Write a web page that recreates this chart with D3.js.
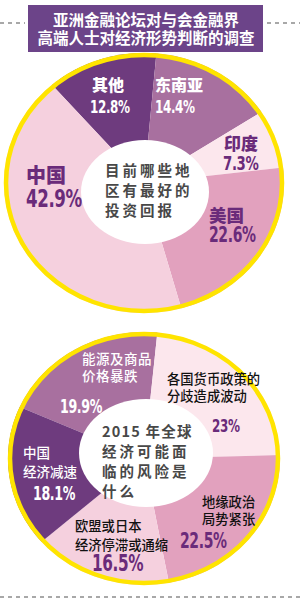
<!DOCTYPE html>
<html>
<head>
<meta charset="utf-8">
<script src="https://cdn.jsdelivr.net/npm/d3@7"></script>
<style>
  body { margin: 0; background: #fff; }
  svg { display: block; }
</style>
</head>
<body>
<svg width="300" height="603"></svg>
<script>
// ---- data ----
const titleLines = ['亚洲金融论坛对与会金融界', '高端人士对经济形势判断的调查'];

const regionNames = ['其他', '东南亚', '印度', '美国', '中国'];
const regionShares = [12.8, 14.4, 7.3, 22.6, 42.9];
const regionQuestion = ['目前哪些地', '区有最好的', '投资回报'];

const riskNames = [
  ['能源及商品', '价格暴跌'],
  ['各国货币政策的', '分歧造成波动'],
  ['地缘政治', '局势紧张'],
  ['欧盟或日本', '经济停滞或通缩'],
  ['中国', '经济减速']
];
const riskShares = [19.9, 23, 22.5, 16.5, 18.1];
const riskQuestion = ['2015 年全球', '经济可能面', '临的风险是', '什么'];

// ---- styles ----
const DARK = '#6e3b7e', MID = '#a8709f', VLIGHT = '#fce7ed', MPINK = '#e2a1be', LPINK = '#f5d0de';
const LABEL_PURPLE = '#6a2b7a';
const YELLOW = '#ffe400';
const CJK = '"Noto Sans CJK SC", sans-serif';
const NUM = '"DejaVu Sans Condensed", "DejaVu Sans", sans-serif';
const NUM_SQUEEZE = 0.74; // percentages are set in a very narrow heavy face

const svg = d3.select('svg');
const fmt = v => `${v}%`;

// title
svg.append('g').selectAll('line')
  .data([[0, 25], [267, 300]])
  .join('line')
  .attr('x1', d => d[0]).attr('x2', d => d[1])
  .attr('y1', 23).attr('y2', 23)
  .attr('stroke', '#8c8c8c').attr('stroke-width', 1.5)
  .attr('stroke-dasharray', '4,4');

svg.append('rect')
  .attr('x', 28).attr('y', 5).attr('width', 235).attr('height', 47)
  .attr('fill', '#6c4489');

svg.append('g').selectAll('text')
  .data(titleLines)
  .join('text')
  .attr('x', 146).attr('y', (d, i) => 26 + i * 18)
  .attr('text-anchor', 'middle')
  .attr('fill', '#fff')
  .attr('font-family', CJK).attr('font-weight', 700).attr('font-size', 15.5)
  .text(d => d);

function donut(cfg) {
  const k = cfg.ry / cfg.rx;
  const a0 = cfg.start * Math.PI / 180;
  const pie = d3.pie().sort(null).value(d => d)
    .startAngle(a0).endAngle(a0 + 2 * Math.PI);
  const arc = d3.arc().innerRadius(0).outerRadius(cfg.rx);

  svg.append('g')
    .attr('transform', `translate(${cfg.cx},${cfg.cy}) scale(1,${k})`)
    .selectAll('path')
    .data(pie(cfg.values))
    .join('path')
    .attr('d', arc)
    .attr('fill', (d, i) => cfg.colors[i]);

  svg.append('ellipse')
    .attr('cx', cfg.hole[0]).attr('cy', cfg.hole[1])
    .attr('rx', cfg.hole[2]).attr('ry', cfg.hole[3])
    .attr('fill', '#fff');

  svg.append('ellipse')
    .attr('cx', cfg.cx).attr('cy', cfg.cy)
    .attr('rx', cfg.rx - 2).attr('ry', cfg.ry - 2)
    .attr('fill', 'none')
    .attr('stroke', YELLOW).attr('stroke-width', 4.5);

  // centre question
  svg.append('g').selectAll('text')
    .data(cfg.question)
    .join('text')
    .attr('x', cfg.qx).attr('y', (d, i) => cfg.qy + i * 20)
    .attr('fill', '#484848')
    .attr('font-family', CJK).attr('font-weight', 700)
    .attr('font-size', 14.5)
    .attr('letter-spacing', d => /\d/.test(d) ? 1.2 : 3)
    .text(d => d);

  // slice labels
  cfg.labels.forEach((lab, i) => {
    const names = Array.isArray(cfg.names[i]) ? cfg.names[i] : [cfg.names[i]];
    svg.append('g').selectAll('text')
      .data(names)
      .join('text')
      .attr('x', lab.x).attr('y', (d, j) => lab.y + j * lab.lh)
      .attr('fill', lab.nc)
      .attr('font-family', CJK).attr('font-weight', lab.nw)
      .attr('font-size', lab.ns).attr('letter-spacing', lab.ls || 0)
      .text(d => d);
    svg.append('text')
      .attr('transform', `translate(${lab.px},${lab.py}) scale(${NUM_SQUEEZE},1)`)
      .attr('fill', lab.pc)
      .attr('font-family', NUM).attr('font-weight', 700)
      .attr('font-size', lab.ps).attr('letter-spacing', -0.5)
      .text(fmt(cfg.values[i]));
  });
}

donut({
  cx: 144, cy: 183, rx: 140, ry: 130, start: -41,
  hole: [145, 192, 64, 52],
  values: regionShares, names: regionNames,
  colors: [DARK, MID, VLIGHT, MPINK, LPINK],
  question: regionQuestion, qx: 105, qy: 176,
  labels: [
    { x: 92, y: 91, lh: 0, ns: 16, nw: 900, nc: '#fff', px: 90, py: 113, ps: 18, pc: '#fff' },
    { x: 155, y: 91, lh: 0, ns: 16, nw: 900, nc: '#fff', px: 155, py: 113, ps: 18, pc: '#fff' },
    { x: 224, y: 150, lh: 0, ns: 17, nw: 900, nc: LABEL_PURPLE, px: 223, py: 170, ps: 20, pc: LABEL_PURPLE },
    { x: 209, y: 222, lh: 0, ns: 17.5, nw: 900, nc: LABEL_PURPLE, px: 209, py: 242, ps: 21, pc: LABEL_PURPLE },
    { x: 26, y: 183, lh: 0, ns: 20, nw: 900, nc: LABEL_PURPLE, px: 26, py: 207, ps: 25, pc: LABEL_PURPLE }
  ]
});

donut({
  cx: 144, cy: 458.5, rx: 136, ry: 126.5, start: -66,
  hole: [146, 453, 67, 54],
  values: riskShares, names: riskNames,
  colors: [MID, VLIGHT, MPINK, LPINK, DARK],
  question: riskQuestion, qx: 102, qy: 437,
  labels: [
    { x: 82, y: 364, lh: 17, ns: 13.5, nw: 500, ls: 0.5, nc: '#fff', px: 60, py: 413, ps: 19, pc: '#fff' },
    { x: 167, y: 384, lh: 16.5, ns: 13.3, nw: 500, nc: '#111', px: 212, py: 432, ps: 18, pc: LABEL_PURPLE },
    { x: 202, y: 507, lh: 17, ns: 13.3, nw: 500, nc: '#111', px: 180, py: 548, ps: 21, pc: LABEL_PURPLE },
    { x: 75, y: 531, lh: 19, ns: 13.3, nw: 500, nc: '#111', px: 92, py: 571, ps: 23, pc: LABEL_PURPLE },
    { x: 23, y: 458, lh: 19, ns: 13.5, nw: 500, nc: '#fff', px: 33, py: 500, ps: 19, pc: '#fff' }
  ]
});

// footer rule
svg.append('line')
  .attr('x1', 0).attr('x2', 300).attr('y1', 597).attr('y2', 597)
  .attr('stroke', '#8c8c8c').attr('stroke-width', 1.5)
  .attr('stroke-dasharray', '4,4');
</script>
</body>
</html>
